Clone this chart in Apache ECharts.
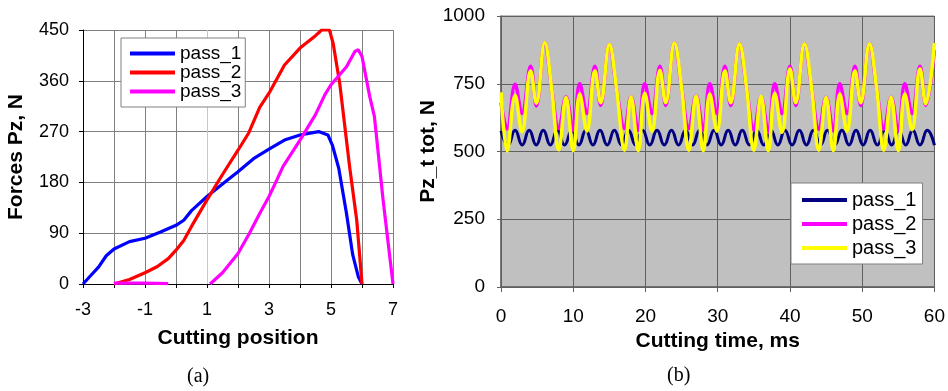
<!DOCTYPE html>
<html>
<head>
<meta charset="utf-8">
<script src="https://cdn.jsdelivr.net/npm/echarts@6/dist/echarts.min.js"></script>
<style>
html,body{margin:0;padding:0;background:#fff;}
#chart{width:948px;height:391px;}
</style>
</head>
<body>
<div id="chart"></div>
<script>
// ---------- Data: panel (a) ----------
const seriesNames = ['pass_1', 'pass_2', 'pass_3'];
const posTicksLabel = 'Cutting position';
const forceTitle = 'Forces Pz, N';
// [cutting position, force N]
const posPass1 = [[-3,0],[-2.75,15],[-2.5,30],[-2.25,50],[-2,62],[-1.5,75],[-1,81],[-0.5,92],[0,104],[0.25,113],[0.5,130],[1,155],[1.5,177],[2,199],[2.5,222],[3,239],[3.5,255],[4,264],[4.6,270],[4.9,264],[5.05,245],[5.25,205],[5.5,125],[5.7,52],[5.88,13],[6,0]];
const posPass2 = [[-2,0],[-1.5,8],[-1,20],[-0.6,31],[-0.25,45],[0,60],[0.25,77],[0.5,102],[1,149],[1.5,194],[2,237],[2.35,268],[2.7,313],[3,338],[3.5,388],[4,418],[4.5,440],[4.7,450],[4.95,450],[5.07,426],[5.28,356],[5.6,208],[5.83,113],[6,0]];
const posPass3 = [[-2,1.5],[-1,1.5],[-0.25,0.5],['-','-'],[1.1,0],[1.5,20],[2,54],[2.37,90],[2.7,125],[3,155],[3.25,184],[3.45,208],[4,255],[4.5,300],[4.8,335],[5,353],[5.5,385],[5.77,412],[5.88,415],[6,403],[6.25,332],[6.4,297],[6.68,149],[7,0]];

// ---------- Data: panel (b) ----------
const timeTitle = 'Cutting time, ms';
const pzTitle = 'Pz_t tot, N';
// [time ms, Pz N]
const timePass1 = [[0,576],[0.98,524],[1.95,578],[2.93,524],[3.9,578],[4.88,524],[5.85,578],[6.83,524],[7.8,578],[8.8,524],[9.8,578],[10.78,524],[11.75,578],[12.73,524],[13.7,578],[14.7,524],[15.7,578],[16.68,524],[17.65,578],[18.63,524],[19.6,578],[20.6,524],[21.6,578],[22.6,524],[23.6,578],[24.58,524],[25.55,578],[26.53,524],[27.5,578],[28.5,524],[29.5,578],[30.48,524],[31.45,578],[32.43,524],[33.4,578],[34.4,524],[35.4,578],[36.38,524],[37.35,578],[38.33,524],[39.3,578],[40.3,524],[41.3,578],[42.28,524],[43.25,578],[44.23,524],[45.2,578],[46.2,524],[47.2,578],[48.18,524],[49.15,578],[50.13,524],[51.1,578],[52.1,524],[53.1,578],[54.08,524],[55.05,578],[56.03,524],[57.0,578],[58.0,524],[59.0,578],[60.0,523]];
const timePass2 = [[0,680],[0.85,583],[1.95,748],[2.9,640],[4.1,815],[4.9,668],[6.05,902],[7.0,735],[8.0,585],[9.0,702],[10.0,578],[10.9,750],[11.9,640],[13.0,815],[13.8,670],[15.0,895],[16.0,730],[17.1,585],[18.0,702],[19.0,578],[19.9,750],[20.9,640],[22.0,815],[22.8,670],[24.0,900],[25.0,735],[26.0,585],[27.0,705],[28.0,578],[28.9,750],[29.9,640],[31.0,815],[31.8,670],[33.0,898],[34.0,733],[35.0,580],[36.0,702],[37.0,570],[37.9,750],[38.9,640],[40.0,815],[40.8,670],[42.0,898],[43.0,733],[44.0,582],[45.0,700],[46.0,576],[46.9,750],[47.9,640],[49.0,815],[49.8,670],[51.0,898],[52.0,733],[53.0,582],[54.0,700],[55.0,576],[55.9,750],[56.9,640],[58.0,815],[58.8,670],[60.0,875]];
const timePass3 = [[0,718],[0.85,502],[1.95,708],[2.9,573],[4.1,798],[4.9,678],[6.05,902],[7.0,735],[8.0,506],[9.0,700],[10.0,503],[10.9,712],[11.9,575],[13.0,798],[13.8,680],[15.0,895],[16.0,730],[17.1,505],[18.0,702],[19.0,503],[19.9,715],[20.9,575],[22.0,800],[22.8,680],[24.0,900],[25.0,735],[26.0,505],[27.0,705],[28.0,503],[28.9,712],[29.9,575],[31.0,798],[31.8,680],[33.0,898],[34.0,733],[35.0,505],[36.0,704],[37.0,503],[37.9,715],[38.9,570],[40.0,805],[40.8,680],[42.0,898],[43.0,733],[44.0,505],[45.0,700],[46.0,503],[46.9,712],[47.9,575],[49.0,798],[49.8,680],[51.0,898],[52.0,733],[53.0,505],[54.0,700],[55.0,503],[55.9,712],[56.9,580],[58.0,805],[58.8,676],[60.0,900]];

const FONT = '"Liberation Sans", Arial, sans-serif';
const chart = echarts.init(document.getElementById('chart'), null, {renderer: 'canvas'});

const leftSplitColors = ['#808080','#808080','#808080','#808080','#c8c8c8','#808080','#808080','#808080','#808080','#808080','#808080'];

const option = {
  animation: false,
  backgroundColor: '#ffffff',
  grid: [
    {left: 83, top: 30, width: 310, height: 254, show: false},
    {left: 501, top: 16, width: 434, height: 271, show: true, backgroundColor: '#c0c0c0', borderColor: '#808080', borderWidth: 1}
  ],
  xAxis: [
    {
      type: 'value', gridIndex: 0, min: -3, max: 7, interval: 1,
      name: posTicksLabel, nameLocation: 'middle', nameGap: 44,
      nameTextStyle: {fontFamily: FONT, fontSize: 21, fontWeight: 'bold', color: '#000'},
      axisLine: {show: true, onZero: false, lineStyle: {color: '#000', width: 1}},
      axisTick: {show: true, length: 4, lineStyle: {color: '#000'}},
      axisLabel: {fontFamily: FONT, fontSize: 18, color: '#000', margin: 17,
        formatter: v => (Math.round(v) % 2 !== 0 ? String(v) : '')},
      splitLine: {show: true, lineStyle: {color: leftSplitColors, width: 1}}
    },
    {
      type: 'value', gridIndex: 1, min: 0, max: 60, interval: 10,
      name: timeTitle, nameLocation: 'middle', nameGap: 38,
      nameTextStyle: {fontFamily: FONT, fontSize: 21, fontWeight: 'bold', color: '#000'},
      axisLine: {show: true, onZero: false, lineStyle: {color: '#606060', width: 1.5}},
      axisTick: {show: true, length: 5, lineStyle: {color: '#606060'}},
      axisLabel: {fontFamily: FONT, fontSize: 19, color: '#000', margin: 20},
      splitLine: {show: true, lineStyle: {color: '#606060', width: 1}}
    }
  ],
  yAxis: [
    {
      type: 'value', gridIndex: 0, min: 0, max: 450, interval: 90,
      name: forceTitle, nameLocation: 'middle', nameGap: 56,
      nameTextStyle: {fontFamily: FONT, fontSize: 21, fontWeight: 'bold', color: '#000'},
      axisLine: {show: true, onZero: false, lineStyle: {color: '#000', width: 1}},
      axisTick: {show: true, length: 4, lineStyle: {color: '#000'}},
      axisLabel: {fontFamily: FONT, fontSize: 18, color: '#000', margin: 14},
      splitLine: {show: true, lineStyle: {color: '#808080', width: 1}}
    },
    {
      type: 'value', gridIndex: 1, min: 0, max: 1000, interval: 250,
      name: pzTitle, nameLocation: 'middle', nameGap: 60,
      nameTextStyle: {fontFamily: FONT, fontSize: 21, fontWeight: 'bold', color: '#000'},
      axisLine: {show: true, onZero: false, lineStyle: {color: '#606060', width: 1.5}},
      axisTick: {show: true, length: 4, lineStyle: {color: '#606060'}},
      axisLabel: {fontFamily: FONT, fontSize: 19, color: '#000', margin: 16, formatter: v => String(v)},
      splitLine: {show: true, lineStyle: {color: '#606060', width: 1}}
    }
  ],
  legend: [
    {
      left: 121, top: 38, orient: 'vertical',
      backgroundColor: '#fff', borderColor: '#808080', borderWidth: 1,
      padding: [6, 4, 6, 9], itemWidth: 45, itemHeight: 4, itemGap: 0,
      icon: 'rect',
      textStyle: {fontFamily: FONT, fontSize: 19, color: '#000', lineHeight: 19},
      data: [
        {name: seriesNames[0], itemStyle: {color: '#0000ff'}},
        {name: seriesNames[1], itemStyle: {color: '#ff0000'}},
        {name: seriesNames[2], itemStyle: {color: '#ff00ff'}}
      ]
    },
    {
      left: 791, top: 183, orient: 'vertical',
      backgroundColor: '#fff', borderColor: '#808080', borderWidth: 1,
      padding: [5, 6, 4, 11], itemWidth: 45, itemHeight: 4, itemGap: 0,
      icon: 'rect',
      textStyle: {fontFamily: FONT, fontSize: 20, color: '#000', lineHeight: 24},
      data: [
        {name: seriesNames[0], itemStyle: {color: '#000080'}},
        {name: seriesNames[1], itemStyle: {color: '#ff00ff'}},
        {name: seriesNames[2], itemStyle: {color: '#ffff00'}}
      ]
    }
  ],
  graphic: [
    {type: 'text', left: 187, top: 367, style: {text: '(a)', font: '20px "Liberation Serif", "Times New Roman", serif', fill: '#000'}},
    {type: 'text', left: 667, top: 366, style: {text: '(b)', font: '20px "Liberation Serif", "Times New Roman", serif', fill: '#000'}}
  ],
  series: [
    {name: seriesNames[0], type: 'line', xAxisIndex: 0, yAxisIndex: 0, data: posPass1, symbol: 'none', lineStyle: {color: '#0000ff', width: 3.2}, itemStyle: {color: '#0000ff'}},
    {name: seriesNames[1], type: 'line', xAxisIndex: 0, yAxisIndex: 0, data: posPass2, symbol: 'none', lineStyle: {color: '#ff0000', width: 3.2}, itemStyle: {color: '#ff0000'}},
    {name: seriesNames[2], type: 'line', xAxisIndex: 0, yAxisIndex: 0, data: posPass3, symbol: 'none', connectNulls: false, lineStyle: {color: '#ff00ff', width: 3.2}, itemStyle: {color: '#ff00ff'}},
    {name: seriesNames[0], type: 'line', xAxisIndex: 1, yAxisIndex: 1, data: timePass1, symbol: 'none', smooth: 0.5, lineStyle: {color: '#000080', width: 3}, itemStyle: {color: '#000080'}},
    {name: seriesNames[1], type: 'line', xAxisIndex: 1, yAxisIndex: 1, data: timePass2, symbol: 'none', smooth: 0.4, lineStyle: {color: '#ff00ff', width: 3.5}, itemStyle: {color: '#ff00ff'}},
    {name: seriesNames[2], type: 'line', xAxisIndex: 1, yAxisIndex: 1, data: timePass3, symbol: 'none', smooth: 0.4, lineStyle: {color: '#ffff00', width: 3.5}, itemStyle: {color: '#ffff00'}}
  ]
};
chart.setOption(option);
</script>
</body>
</html>
